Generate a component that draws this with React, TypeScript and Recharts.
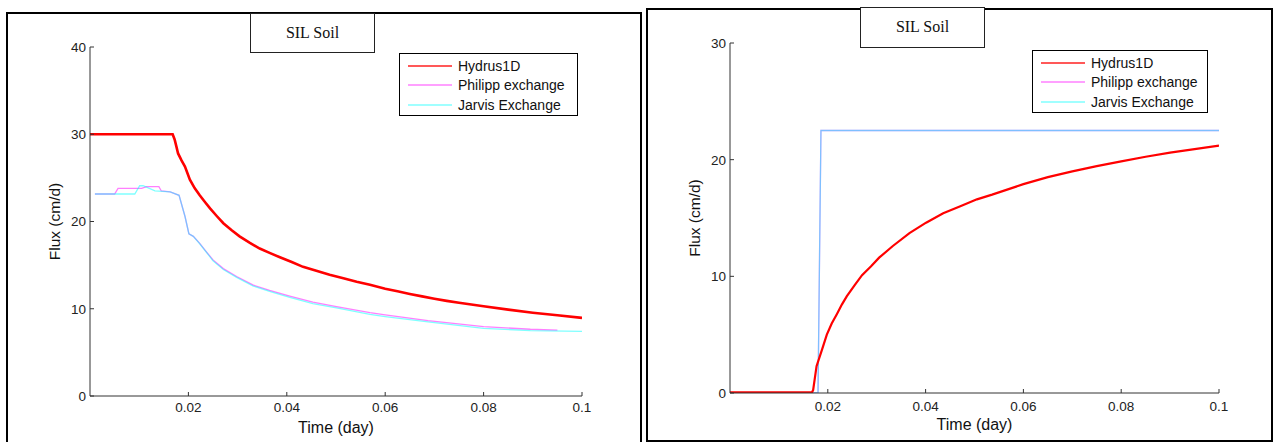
import React from 'react';
import { LineChart, Line, XAxis, YAxis, Legend } from 'recharts';

// left panel (SIL soil, flux decreasing after ponding)
const hydrusLeftT = [0, 0.005, 0.01, 0.015, 0.0168, 0.0172, 0.0176, 0.0179, 0.0186, 0.0193, 0.0203, 0.0213, 0.0223, 0.0234, 0.0244, 0.0258, 0.0271, 0.0288, 0.0304, 0.0325, 0.0345, 0.0365, 0.0386, 0.041, 0.0433, 0.046, 0.0487, 0.0515, 0.0542, 0.0569, 0.06, 0.0625, 0.065, 0.0675, 0.07, 0.0725, 0.075, 0.0775, 0.08, 0.085, 0.09, 0.095, 0.1];
const hydrusLeftFlux = [30, 30, 30, 30, 30, 29.4, 28.5, 27.8, 27.0, 26.3, 24.8, 23.8, 23.0, 22.2, 21.5, 20.6, 19.8, 19.0, 18.3, 17.55, 16.9, 16.4, 15.9, 15.35, 14.8, 14.35, 13.9, 13.5, 13.1, 12.75, 12.3, 12.0, 11.7, 11.42, 11.15, 10.9, 10.68, 10.48, 10.28, 9.9, 9.55, 9.25, 8.95];

const philippLeftT = [0.001, 0.005, 0.0057, 0.0105, 0.0115, 0.014, 0.0145, 0.0163, 0.0181, 0.0193, 0.0201, 0.021, 0.0223, 0.0237, 0.025, 0.0271, 0.0298, 0.0332, 0.0365, 0.0406, 0.0453, 0.0501, 0.0569, 0.06, 0.0687, 0.08, 0.0895, 0.095];
const philippLeftFlux = [23.15, 23.15, 23.8, 23.8, 24.0, 24.0, 23.5, 23.4, 23.0, 20.6, 18.6, 18.3, 17.5, 16.5, 15.6, 14.6, 13.7, 12.7, 12.1, 11.45, 10.75, 10.25, 9.55, 9.3, 8.65, 7.95, 7.65, 7.55];

const jarvisLeftT = [0.001, 0.0091, 0.0101, 0.0108, 0.0132, 0.0163, 0.0181, 0.0193, 0.0201, 0.021, 0.0223, 0.0237, 0.025, 0.0271, 0.0298, 0.0332, 0.0365, 0.0406, 0.0453, 0.0501, 0.0569, 0.06, 0.0687, 0.08, 0.0895, 0.1];
const jarvisLeftFlux = [23.15, 23.15, 24.1, 24.1, 23.5, 23.4, 23.0, 20.6, 18.6, 18.3, 17.45, 16.45, 15.5, 14.5, 13.6, 12.6, 12.0, 11.3, 10.6, 10.1, 9.35, 9.1, 8.5, 7.75, 7.5, 7.4];

// right panel (flux rising after ponding)
const hydrusRightT = [0, 0.005, 0.01, 0.015, 0.0168, 0.017, 0.0177, 0.0188, 0.0198, 0.0208, 0.0219, 0.0229, 0.0239, 0.0255, 0.027, 0.0288, 0.0305, 0.0333, 0.0367, 0.0401, 0.0436, 0.0471, 0.0505, 0.0536, 0.06, 0.065, 0.07, 0.075, 0.08, 0.085, 0.09, 0.095, 0.1];
const hydrusRightFlux = [0.05, 0.05, 0.05, 0.05, 0.08, 0.25, 2.3, 3.7, 5.0, 5.95, 6.8, 7.6, 8.3, 9.25, 10.1, 10.85, 11.6, 12.6, 13.7, 14.6, 15.4, 16.0, 16.6, 17.0, 17.9, 18.5, 19.0, 19.45, 19.85, 20.25, 20.6, 20.9, 21.2];

const exchangeRightT = [0, 0.018, 0.0186, 0.1];
const exchangeRightFlux = [0, 0, 22.5, 22.5];

const xTicks = [0.02, 0.04, 0.06, 0.08, 0.1];
const yTicksLeft = [0, 10, 20, 30, 40];
const yTicksRight = [0, 10, 20, 30];

const seriesNames = ['Hydrus1D', 'Philipp exchange', 'Jarvis Exchange'];
const legendColors = ['#ff2020', '#ff80ff', '#80ffff'];

const font = '"Liberation Sans", Arial, sans-serif';

const toPoints = (t: number[], v: number[]) => t.map((x, i) => ({ t: x, flux: v[i] }));

function LegendBox({ width }: { width: number }) {
  return (
    <div
      style={{
        width,
        height: 63,
        boxSizing: 'border-box',
        border: '1.5px solid #000',
        background: '#fff',
        padding: '2px 0 0 8px',
        fontFamily: font,
        fontSize: 14,
        color: '#111',
      }}
    >
      {seriesNames.map((name, i) => (
        <div key={name} style={{ display: 'flex', alignItems: 'center', height: 19.5 }}>
          <svg width={50} height={4} style={{ flex: 'none' }}>
            <line x1={0} x2={44} y1={2} y2={2} stroke={legendColors[i]} strokeWidth={1.4} />
          </svg>
          <span>{name}</span>
        </div>
      ))}
    </div>
  );
}

const tickText = { fontSize: 13.5, fontFamily: font, fill: '#222' };

function XTick({ x, y, payload, gap }: any) {
  return (
    <g>
      <line x1={x} x2={x} y1={y} y2={y - 4} stroke="#333" />
      <text x={x} y={y + gap} textAnchor="middle" {...tickText}>{String(payload.value)}</text>
    </g>
  );
}

function YTick({ x, y, payload }: any) {
  return (
    <g>
      <line x1={x} x2={x + 4} y1={y} y2={y} stroke="#333" />
      <text x={x - 4} y={y} dy="0.36em" textAnchor="end" {...tickText}>{String(payload.value)}</text>
    </g>
  );
}

interface PanelProps {
  hydrus: { t: number; flux: number }[];
  philipp: { t: number; flux: number }[];
  jarvis: { t: number; flux: number }[];
  yMax: number;
  yTicks: number[];
  margin: { top: number; right: number; bottom: number; left: number };
  redWidth: number;
  legendPos: { left: number; top: number; width: number };
  tickGap: number;
}

function FluxPanel({ hydrus, philipp, jarvis, yMax, yTicks, margin, redWidth, legendPos, tickGap }: PanelProps) {
  return (
    <LineChart width={640} height={442} margin={margin}>
      <XAxis
        type="number"
        dataKey="t"
        domain={[0, 0.1]}
        ticks={xTicks}
        allowDataOverflow
        height={44}
        tickSize={0}
        tickMargin={0}
        tickLine={false}
        tick={<XTick gap={tickGap} />}
        stroke="#333"
        label={{ value: 'Time (day)', position: 'insideBottom', offset: 7, fontSize: 16, fontFamily: font, fill: '#111' }}
      />
      <YAxis
        type="number"
        domain={[0, yMax]}
        ticks={yTicks}
        allowDataOverflow
        width={90}
        tickSize={0}
        tickMargin={0}
        tickLine={false}
        tick={<YTick />}
        stroke="#333"
        label={{ value: 'Flux (cm/d)', angle: -90, position: 'insideLeft', offset: 54, textAnchor: 'middle', fontSize: 15.5, fontFamily: font, fill: '#111' }}
      />
      <Legend
        layout="vertical"
        align="center"
        verticalAlign="middle"
        wrapperStyle={{ left: legendPos.left, top: legendPos.top, width: legendPos.width }}
        content={() => <LegendBox width={legendPos.width} />}
      />
      <Line data={philipp} dataKey="flux" name={seriesNames[1]} type="linear" stroke="#ff00ff" strokeOpacity={0.5} strokeWidth={1.3} dot={false} isAnimationActive={false} />
      <Line data={jarvis} dataKey="flux" name={seriesNames[2]} type="linear" stroke="#00ffff" strokeOpacity={0.5} strokeWidth={1.3} dot={false} isAnimationActive={false} />
      <Line data={hydrus} dataKey="flux" name={seriesNames[0]} type="linear" stroke="#ff0000" strokeWidth={redWidth} dot={false} isAnimationActive={false} />
    </LineChart>
  );
}

const titleStyle: React.CSSProperties = {
  position: 'absolute',
  width: 125,
  height: 41,
  boxSizing: 'border-box',
  border: '1.5px solid #222',
  background: '#fff',
  fontFamily: '"Liberation Serif", "Times New Roman", serif',
  fontSize: 16,
  textAlign: 'center',
  lineHeight: '38px',
  color: '#111',
};

export default function App() {
  return (
    <div style={{ position: 'absolute', left: 0, top: 0, width: 1274, height: 442, background: '#fff', overflow: 'hidden' }}>
      <div style={{ position: 'absolute', left: 6, top: 12, width: 636, height: 450, boxSizing: 'border-box', border: '2px solid #000' }} />
      <div style={{ position: 'absolute', left: 646, top: 8, width: 627, height: 434, boxSizing: 'border-box', border: '2px solid #000' }} />

      <div style={{ position: 'absolute', left: 0, top: 0 }}>
        <FluxPanel
          hydrus={toPoints(hydrusLeftT, hydrusLeftFlux)}
          philipp={toPoints(philippLeftT, philippLeftFlux)}
          jarvis={toPoints(jarvisLeftT, jarvisLeftFlux)}
          yMax={40}
          yTicks={yTicksLeft}
          margin={{ top: 47, right: 58, bottom: 2, left: 0 }}
          redWidth={2.6}
          legendPos={{ left: 399, top: 53, width: 179 }}
          tickGap={16}
        />
      </div>
      <div style={{ position: 'absolute', left: 640, top: 0 }}>
        <FluxPanel
          hydrus={toPoints(hydrusRightT, hydrusRightFlux)}
          philipp={toPoints(exchangeRightT, exchangeRightFlux)}
          jarvis={toPoints(exchangeRightT, exchangeRightFlux)}
          yMax={30}
          yTicks={yTicksRight}
          margin={{ top: 43, right: 61, bottom: 5, left: 0 }}
          redWidth={2.2}
          legendPos={{ left: 392, top: 50, width: 176 }}
          tickGap={17.5}
        />
      </div>

      <div style={{ ...titleStyle, left: 250, top: 13, height: 40, lineHeight: '37px' }}>SIL Soil</div>
      <div style={{ ...titleStyle, left: 860, top: 7 }}>SIL Soil</div>
    </div>
  );
}
